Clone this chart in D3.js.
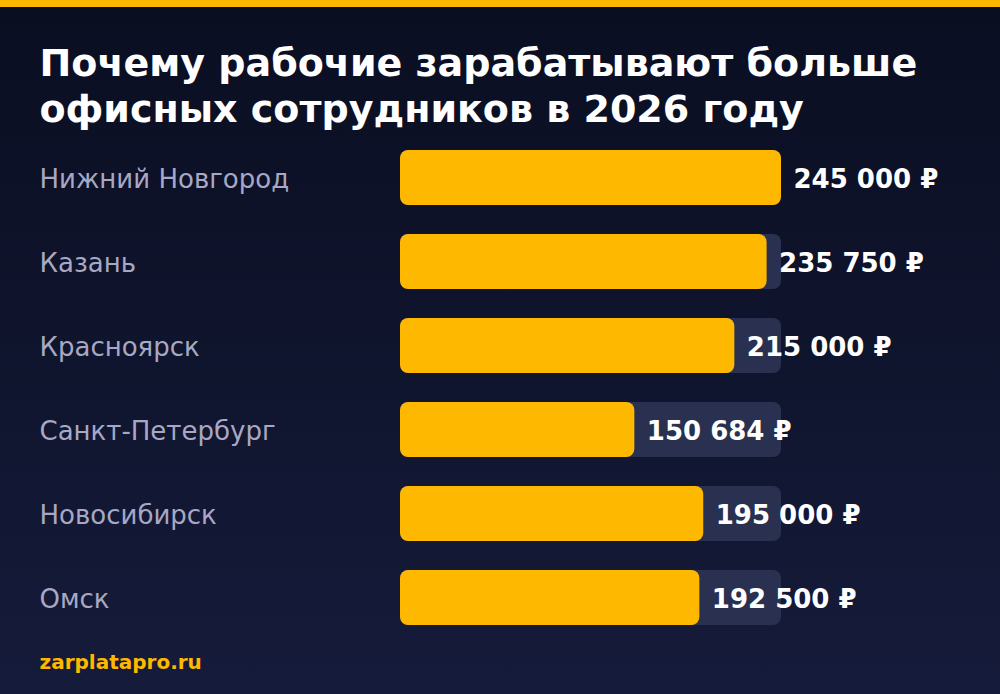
<!DOCTYPE html>
<html>
<head>
<meta charset="utf-8">
<script src="https://cdnjs.cloudflare.com/ajax/libs/d3/7.8.5/d3.min.js"></script>
<style>
  html, body { margin: 0; padding: 0; background: #0a0e21; }
  svg { display: block; }
  text { font-family: "DejaVu Sans", sans-serif; }
  .title { font-size: 38px; font-weight: bold; fill: #fff; }
  .city { font-size: 26px; fill: #a8a8c4; }
  .value { font-size: 26px; font-weight: bold; fill: #fff; }
  .site { font-size: 20px; font-weight: bold; fill: #ffb800; }
</style>
</head>
<body>
<svg id="chart"></svg>
<script>
  var titleLines = ['Почему рабочие зарабатывают больше', 'офисных сотрудников в 2026 году'];
  var cities = ['Нижний Новгород', 'Казань', 'Красноярск', 'Санкт-Петербург', 'Новосибирск', 'Омск'];
  var salaries = [245000, 235750, 215000, 150684, 195000, 192500];
  var valueLabels = ['245 000 ₽', '235 750 ₽', '215 000 ₽', '150 684 ₽', '195 000 ₽', '192 500 ₽'];
  var site = 'zarplatapro.ru';

  var width = 1000, height = 694;
  var barLeft = 400, barRight = 781;

  var svg = d3.select('#chart').attr('width', width).attr('height', height);

  // Background gradient, top to bottom.
  var grad = svg.append('defs').append('linearGradient')
    .attr('id', 'bg').attr('x1', 0).attr('y1', 0).attr('x2', 0).attr('y2', 1);
  grad.append('stop').attr('offset', '0%').attr('stop-color', '#0a0e21');
  grad.append('stop').attr('offset', '100%').attr('stop-color', '#151b3a');

  svg.append('rect').attr('width', width).attr('height', height).attr('fill', 'url(#bg)');
  svg.append('rect').attr('width', width).attr('height', 7).attr('fill', '#ffb800');

  svg.selectAll('.title').data(titleLines).enter().append('text')
    .attr('class', 'title')
    .attr('x', 39.5)
    .attr('y', function(d, i) { return 76 + i * 46; })
    .text(function(d) { return d; });

  var xScale = d3.scaleLinear().domain([0, d3.max(salaries)]).range([barLeft, barRight]);
  // Rows sit 84px apart, bars 55px tall.
  var yScale = d3.scaleBand().domain(cities)
    .range([150, 150 + 84 * cities.length - 29])
    .paddingInner(29 / 84);

  var rows = svg.selectAll('.row').data(cities).enter().append('g')
    .attr('class', 'row')
    .attr('transform', function(d) { return 'translate(0,' + yScale(d) + ')'; });

  var barH = yScale.bandwidth();

  rows.append('text')
    .attr('class', 'city')
    .attr('x', 39.5)
    .attr('y', 38)
    .text(function(d) { return d; });

  rows.append('rect')
    .attr('x', barLeft)
    .attr('width', barRight - barLeft)
    .attr('height', barH)
    .attr('rx', 8)
    .attr('fill', '#2a3050');

  rows.append('rect')
    .attr('x', barLeft)
    .attr('width', function(d, i) { return xScale(salaries[i]) - barLeft; })
    .attr('height', barH)
    .attr('rx', 8)
    .attr('fill', '#ffb800');

  rows.append('text')
    .attr('class', 'value')
    .attr('x', function(d, i) { return xScale(salaries[i]) + 12.5; })
    .attr('y', 38)
    .text(function(d, i) { return valueLabels[i]; });

  svg.append('text').attr('class', 'site').attr('x', 39.5).attr('y', 669).text(site);
</script>
</body>
</html>
